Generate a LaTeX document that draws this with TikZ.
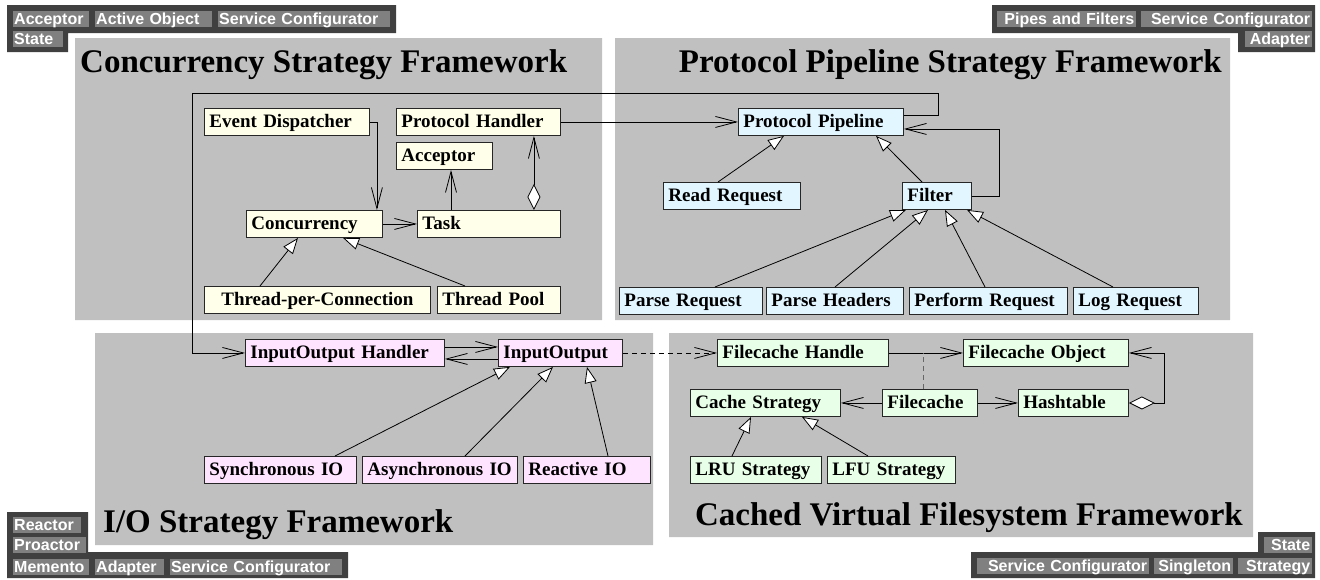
\documentclass[tikz,border=0pt]{standalone}
\usepackage{fontspec}
\setmainfont{Liberation Serif}
\newfontfamily\tagfont{Liberation Sans}
\usetikzlibrary{arrows.meta,positioning}
\definecolor{panelgray}{RGB}{192,192,192}
\definecolor{tagdark}{RGB}{64,64,64}
\definecolor{tagchip}{RGB}{128,128,128}
\definecolor{concfill}{RGB}{255,255,234}
\definecolor{protofill}{RGB}{226,246,255}
\definecolor{iofill}{RGB}{255,228,255}
\definecolor{cachefill}{RGB}{232,255,232}
\begin{document}
\begin{tikzpicture}[x=1pt, y=-1pt,
        box/.style={draw=black!85, line width=0.9pt, anchor=north west, inner xsep=5pt, inner ysep=0pt,
            minimum height=27pt, text height=14pt, text depth=2pt, text width=#1, align=left,
            font={\fontsize{19}{22}\selectfont\bfseries}},
        cbox/.style={box=#1, fill=concfill},
        pbox/.style={box=#1, fill=protofill},
        iobox/.style={box=#1, fill=iofill},
        fsbox/.style={box=#1, fill=cachefill},
        title/.style={inner sep=0pt, font={\fontsize{33}{38}\selectfont\bfseries}},
        tag/.style={fill=tagchip, text=white, anchor=north west, inner ysep=0pt,
            text height=13pt, text depth=3pt, font={\tagfont\fontsize{16}{18}\selectfont\bfseries}},
        ltag/.style={tag, inner xsep=1pt, text width=#1, align=left},
        rtag/.style={tag, inner xsep=2pt, text width=#1, align=right},
        link/.style={line width=0.8pt},
        assoc/.style={link, -{Straight Barb[length=21pt,width=11pt]}},
        isa/.style={link, -{Triangle[length=16pt,width=12pt,fill=white]}},
        part/.style={link, {Diamond[length=26pt,width=13pt,fill=white]}-{Straight Barb[length=21pt,width=11pt]}}
    ]
    \useasboundingbox (0,0) rectangle (1320,579);
    \fill[panelgray]
        (75,38) rectangle (602,320)
        (615,38) rectangle (1230,320)
        (95,333) rectangle (653,545)
        (669,333) rectangle (1253,537);
    \fill[tagdark]
        (7,5) rectangle (396,33) (7,33) rectangle (68,52)
        (992,5) rectangle (1315,33) (1238,33) rectangle (1315,52)
        (7,512) rectangle (88,552) (7,552) rectangle (348,578)
        (1258,532) rectangle (1315,552) (971,552) rectangle (1315,578);

    \node[ltag=74pt] (tlacc) at (13,11) {Acceptor};
    \node[ltag=115pt] (tlao) at (95,11) {Active Object};
    \node[ltag=170pt] (tlsc) at (218,11) {Service Configurator};
    \node[ltag=48pt] (tlst) at (13,31) {State};
    \node[rtag=135pt] (trpf) at (997,11) {Pipes and Filters};
    \node[rtag=167pt] (trsc) at (1141,11) {Service Configurator};
    \node[rtag=63pt] (trad) at (1245,31) {Adapter};
    \node[ltag=66pt] (blre) at (13,517) {Reactor};
    \node[ltag=71pt] (blpr) at (13,537) {Proactor};
    \node[ltag=74pt] (blme) at (13,559) {Memento};
    \node[ltag=67pt] (blad) at (95,559) {Adapter};
    \node[ltag=170pt] (blsc) at (170,559) {Service Configurator};
    \node[rtag=44pt] (brst) at (1264,537) {State};
    \node[rtag=168pt] (brsc) at (977,558) {Service Configurator};
    \node[rtag=75pt] (brsi) at (1154,558) {Singleton};
    \node[rtag=70pt] (brstr) at (1238,558) {Strategy};

    \node[title, anchor=base west] (conctitle) at (80,72) {Concurrency Strategy Framework};
    \node[title, anchor=base east] (prototitle) at (1222,72) {Protocol Pipeline Strategy Framework};
    \node[title, anchor=base west] (iotitle) at (103,532) {I/O Strategy Framework};
    \node[title, anchor=base east] (fstitle) at (1243,525) {Cached Virtual Filesystem Framework};

    \node[cbox=155pt] (ed) at (204,108) {Event Dispatcher};
    \node[cbox=154pt] (ph) at (396,108) {Protocol Handler};
    \node[cbox=86pt] (acc) at (396,142) {Acceptor};
    \node[cbox=126pt] (conc) at (246,210) {Concurrency};
    \node[cbox=133pt] (task) at (417,210) {Task};
    \node[cbox=216pt, align=center] (tpc) at (204,286) {Thread-per-Connection};
    \node[cbox=113pt] (tp) at (437,286) {Thread Pool};

    \node[pbox=155pt] (pp) at (738,108) {Protocol Pipeline};
    \node[pbox=127pt] (rr) at (663,182) {Read Request};
    \node[pbox=59pt] (filter) at (902,182) {Filter};
    \node[pbox=133pt] (prq) at (619,287) {Parse Request};
    \node[pbox=127pt] (phd) at (766,287) {Parse Headers};
    \node[pbox=148pt] (pfr) at (909,287) {Perform Request};
    \node[pbox=115pt] (lrq) at (1073,287) {Log Request};

    \node[iobox=189pt] (ioh) at (245,339) {InputOutput Handler};
    \node[iobox=114pt] (io) at (498,339) {InputOutput};
    \node[iobox=142pt] (sio) at (204,456) {Synchronous IO};
    \node[iobox=145pt] (aio) at (362,456) {Asynchronous IO};
    \node[iobox=117pt] (rio) at (523,456) {Reactive IO};

    \node[fsbox=161pt] (fh) at (717,339) {Filecache Handle};
    \node[fsbox=155pt] (fo) at (963,339) {Filecache Object};
    \node[fsbox=140pt] (cs) at (690,389) {Cache Strategy};
    \node[fsbox=85pt] (fc) at (882,389) {Filecache};
    \node[fsbox=100pt] (ht) at (1018,389) {Hashtable};
    \node[fsbox=121pt] (lru) at (690,456) {LRU Strategy};
    \node[fsbox=118pt] (lfu) at (827,456) {LFU Strategy};

    \draw[assoc] (ed.east) -| ([xshift=-6pt]conc.north east);
    \draw[assoc] (conc.east) -- (task.west);
    \draw[assoc] ([xshift=34pt]task.north west) -- ([xshift=34pt]task.north west |- acc.south);
    \draw[part] ([xshift=-27pt]task.north east) -- ([xshift=-27pt]ph.south east);
    \draw[assoc] (ph.east) -- (pp.west);
    \draw[isa] ([xshift=56pt]tpc.north west) -- ([xshift=52pt]conc.south west);
    \draw[isa] ([xshift=28pt]tp.north west) -- ([xshift=97pt]conc.south west);

    \draw[assoc] ([yshift=7pt]pp.east) -- ++(34,0) |- (192,93) |- (ioh.west);
    \draw[assoc] (filter.east) -- ++(27,0) |- ([yshift=-7pt]pp.east);
    \draw[isa] ([xshift=55pt]rr.north west) -- ([xshift=46pt]pp.south west);
    \draw[isa] ([xshift=20pt]filter.north west) -- ([xshift=138pt]pp.south west);
    \draw[isa] ([xshift=96pt]prq.north west) -- ([xshift=4pt]filter.south west);
    \draw[isa] ([xshift=69pt]phd.north west) -- ([xshift=26pt]filter.south west);
    \draw[isa] ([xshift=76pt]pfr.north west) -- ([xshift=43pt]filter.south west);
    \draw[isa] ([xshift=40pt]lrq.north west) -- ([xshift=65pt]filter.south west);

    \draw[assoc] ([yshift=6pt]ioh.east) -- ([yshift=6pt]io.west);
    \draw[assoc] ([yshift=-6pt]io.west) -- ([yshift=-6pt]ioh.east);
    \draw[isa] ([xshift=131pt]sio.north west) -- ([xshift=12pt]io.south west);
    \draw[isa] ([xshift=103pt]aio.north west) -- ([xshift=55pt]io.south west);
    \draw[isa] ([xshift=85pt]rio.north west) -- ([xshift=89pt]io.south west);
    \draw[assoc, dash pattern=on 5pt off 4pt] (io.east) -- (fh.west);

    \draw[assoc] (fh.east) -- (fo.west);
    \draw[link, black!60, dash pattern=on 5pt off 4pt] ([xshift=41pt]fc.north west) -- ([xshift=41pt]fc.north west |- fh.east);
    \draw[assoc] (fc.west) -- (cs.east);
    \draw[assoc] (fc.east) -- (ht.west);
    \draw[part] (ht.east) -- ++(35,0) |- (fo.east);
    \draw[isa] ([xshift=42pt]lru.north west) -- ([xshift=61pt]cs.south west);
    \draw[isa] ([xshift=41pt]lfu.north west) -- ([xshift=112pt]cs.south west);
\end{tikzpicture}
\end{document}
